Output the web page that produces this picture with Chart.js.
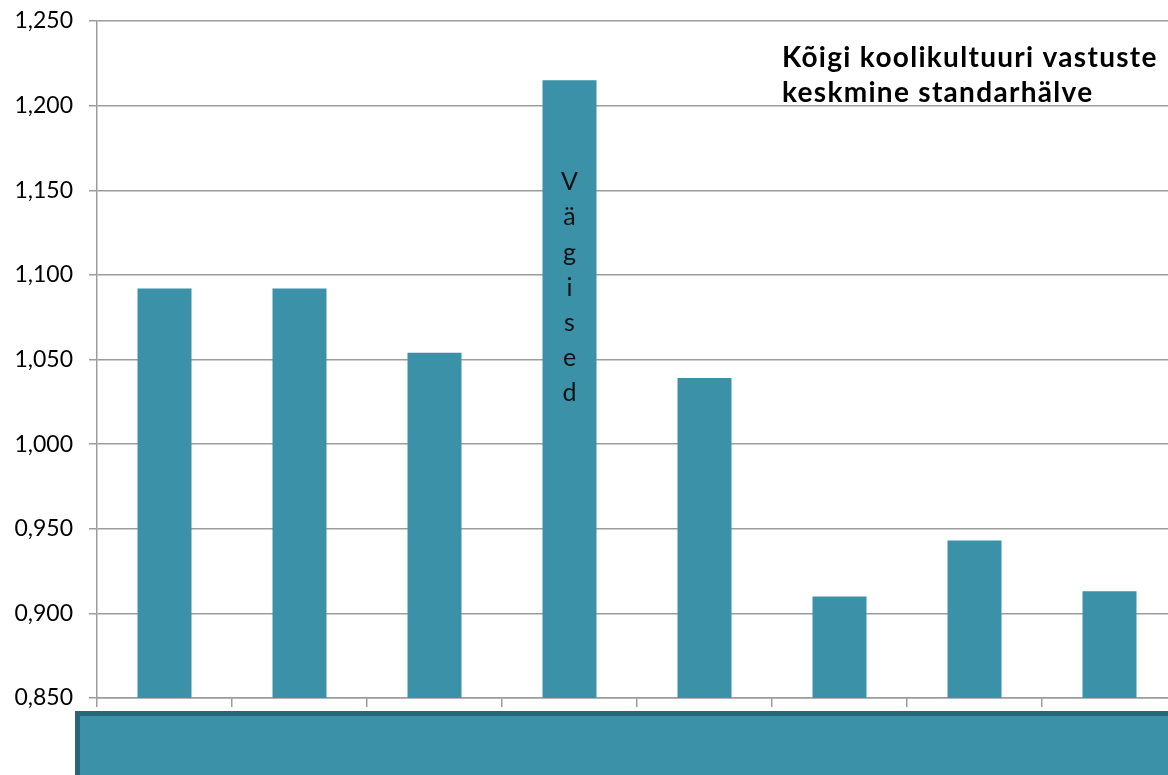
<!DOCTYPE html>
<html>
<head>
<meta charset="utf-8">
<script src="https://cdn.jsdelivr.net/npm/chart.js@4.4.0/dist/chart.umd.min.js"></script>
<style>
  html, body { margin: 0; padding: 0; overflow: hidden; background: #fff; }
  #wrap { width: 1180px; height: 775px; }
</style>
</head>
<body>
<div id="wrap"><canvas id="chart"></canvas></div>
<script>
const categories = ["1", "2", "3", "Vägised", "5", "6", "7", "8"];
const values = [1.092, 1.092, 1.054, 1.215, 1.039, 0.910, 0.943, 0.913];
const inBarLabels = ["", "", "", "Vägised", "", "", "", ""];
const titleLines = ["Kõigi koolikultuuri vastuste", "keskmine standarhälve"];
const yMin = 0.85;
const yMax = 1.25;
const yStep = 0.05;

const barColor = "rgb(58, 145, 168)";
const gridColor = "#9c9c9c";
const font = "Lato, 'Open Sans', sans-serif";

// letters of the in-bar label stacked vertically
const inBarText = {
  id: "inBarText",
  afterDatasetsDraw(chart) {
    const ctx = chart.ctx;
    const meta = chart.getDatasetMeta(0);
    ctx.save();
    ctx.fillStyle = "#111";
    ctx.font = "25px " + font;
    ctx.textAlign = "center";
    ctx.textBaseline = "alphabetic";
    meta.data.forEach((bar, i) => {
      const txt = inBarLabels[i];
      if (!txt) return;
      [...txt].forEach((ch, k) => {
        ctx.fillText(ch, bar.x, bar.y + 110 + k * 35.2);
      });
    });
    ctx.restore();
  },
};

// title top right + the blue box under the axis
const extras = {
  id: "extras",
  afterDraw(chart) {
    const ctx = chart.ctx;
    ctx.save();
    ctx.fillStyle = "#000";
    ctx.font = "bold 28px " + font;
    ctx.letterSpacing = "1.3px";
    ctx.textAlign = "left";
    ctx.textBaseline = "alphabetic";
    ctx.fillText(titleLines[0], 782, 67);
    ctx.fillText(titleLines[1], 782, 102);
    ctx.letterSpacing = "0px";

    ctx.fillStyle = barColor;
    ctx.fillRect(77, 713, 1110, 80);
    ctx.strokeStyle = "rgb(38, 104, 122)";
    ctx.lineWidth = 5;
    ctx.strokeRect(77.5, 713.5, 1110, 80);
    ctx.restore();
  },
};

const config = {
  type: "bar",
  data: {
    labels: categories,
    datasets: [
      {
        data: values,
        backgroundColor: barColor,
        borderWidth: 0,
        barPercentage: 0.4,
        categoryPercentage: 1.0,
      },
    ],
  },
  options: {
    responsive: true,
    maintainAspectRatio: false,
    animation: false,
    layout: { padding: { top: 21, right: 3, left: 0, bottom: 0 } },
    plugins: {
      legend: { display: false },
      tooltip: { enabled: false },
      title: { display: false },
    },
    scales: {
      x: {
        offset: true,
        grid: {
          display: true,
          drawOnChartArea: false,
          drawTicks: true,
          tickLength: 9,
          color: gridColor,
          lineWidth: 1.5,
        },
        border: { display: true, color: gridColor, width: 1.5 },
        ticks: { display: false },
        afterFit: (s) => { s.height = 77; },
      },
      y: {
        min: yMin,
        max: yMax,
        grid: {
          color: gridColor,
          lineWidth: 1.5,
          drawTicks: true,
          tickLength: 8,
        },
        border: { display: true, color: gridColor, width: 1.5 },
        ticks: {
          stepSize: yStep,
          padding: 16,
          color: "#000",
          font: { family: font, size: 23 },
          callback: (v) => v.toFixed(3).replace(".", ","),
        },
        afterFit: (s) => {
          s.width = 97;
          s.paddingTop = 0;
          s.paddingBottom = 0;
        },
      },
    },
  },
  plugins: [inBarText, extras],
};

const myChart = new Chart(document.getElementById("chart"), config);
</script>
</body>
</html>
